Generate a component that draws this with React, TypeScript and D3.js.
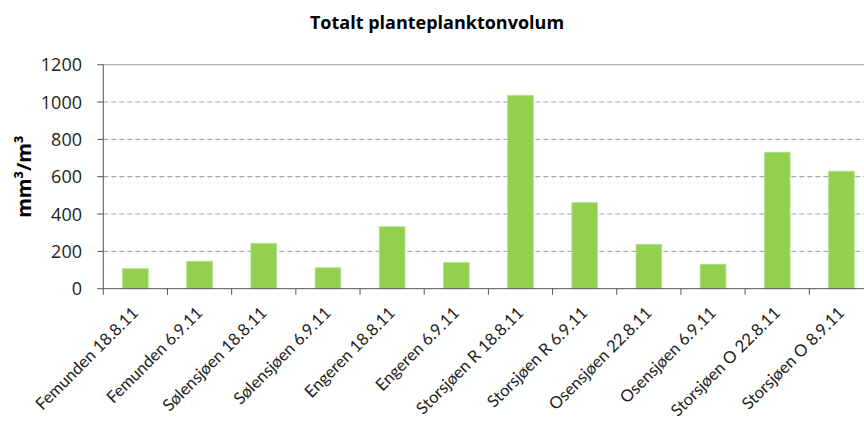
import React from "react";
import * as d3 from "d3";

const categories = [
  "Femunden 18.8.11",
  "Femunden 6.9.11",
  "Sølensjøen 18.8.11",
  "Sølensjøen 6.9.11",
  "Engeren 18.8.11",
  "Engeren 6.9.11",
  "Storsjøen R 18.8.11",
  "Storsjøen R 6.9.11",
  "Osensjøen 22.8.11",
  "Osensjøen 6.9.11",
  "Storsjøen O 22.8.11",
  "Storsjøen O 8.9.11",
];
const values = [107, 147, 243, 112, 332, 141, 1036, 461, 238, 131, 731, 629];
const yTicks = [0, 200, 400, 600, 800, 1000, 1200];
const title = "Totalt planteplanktonvolum";
const yLabel = "mm³/m³";

const W = 864;
const H = 423;
const left = 103.3;
const right = 873.5;
const top = 64.7;
const bottom = 288.7;
const FONT = "'Open Sans', sans-serif";
const LFONT = "Lato, sans-serif";

export default function App() {
  const x = d3.scaleBand<string>().domain(categories).range([left, right]).paddingInner(0.6).paddingOuter(0.3);
  const xb = d3.scaleBand<string>().domain(categories).range([left, right]);
  const y = d3.scaleLinear().domain([0, 1200]).range([bottom, top]);

  return (
    <svg width={W} height={H} style={{ position: "absolute", left: 0, top: 0, background: "#fff" }} fontFamily={FONT}>
      <text x={437} y={29} textAnchor="middle" fontSize={18} fontWeight="bold" fill="#000">
        {title}
      </text>
      {yTicks.map((t) => (
        <g key={t}>
          {t > 0 && (
            <line
              x1={left}
              x2={W}
              y1={y(t)}
              y2={y(t)}
              stroke={t === 1200 ? "#a6a6a6" : "#9a9a9a"}
              strokeWidth={1}
              strokeDasharray={t === 1200 ? undefined : "5,3"}
            />
          )}
          <line x1={left - 6} x2={left} y1={y(t)} y2={y(t)} stroke="#555" />
          <text x={82} y={y(t)} dy="0.36em" textAnchor="end" fontSize={18} fill="#222">
            {t}
          </text>
        </g>
      ))}
      {categories.map((c, i) => (
        <rect
          key={c}
          x={x(c)}
          y={y(values[i])}
          width={x.bandwidth()}
          height={bottom - y(values[i])}
          fill="#92D050"
          stroke="#b5e08a"
          strokeWidth={0.8}
        />
      ))}
      <line x1={left} x2={left} y1={top} y2={bottom} stroke="#555" />
      <line x1={left} x2={W} y1={bottom} y2={bottom} stroke="#555" />
      {categories.map((c, i) => (
        <line key={"t" + i} x1={xb(c)} x2={xb(c)} y1={bottom} y2={bottom + 6} stroke="#555" />
      ))}
      {categories.map((c) => {
        const cx = (xb(c) as number) + xb.bandwidth() / 2;
        return (
          <text
            key={"l" + c}
            transform={`translate(${cx + 4},314) rotate(-45)`}
            textAnchor="end"
            fontSize={16.6}
            fontFamily={LFONT}
            fill="#222"
          >
            {c}
          </text>
        );
      })}
      <text
        transform={`translate(31,${(top + bottom) / 2}) rotate(-90)`}
        textAnchor="middle"
        fontSize={20}
        fontWeight="bold"
        fill="#000"
      >
        {yLabel}
      </text>
    </svg>
  );
}
